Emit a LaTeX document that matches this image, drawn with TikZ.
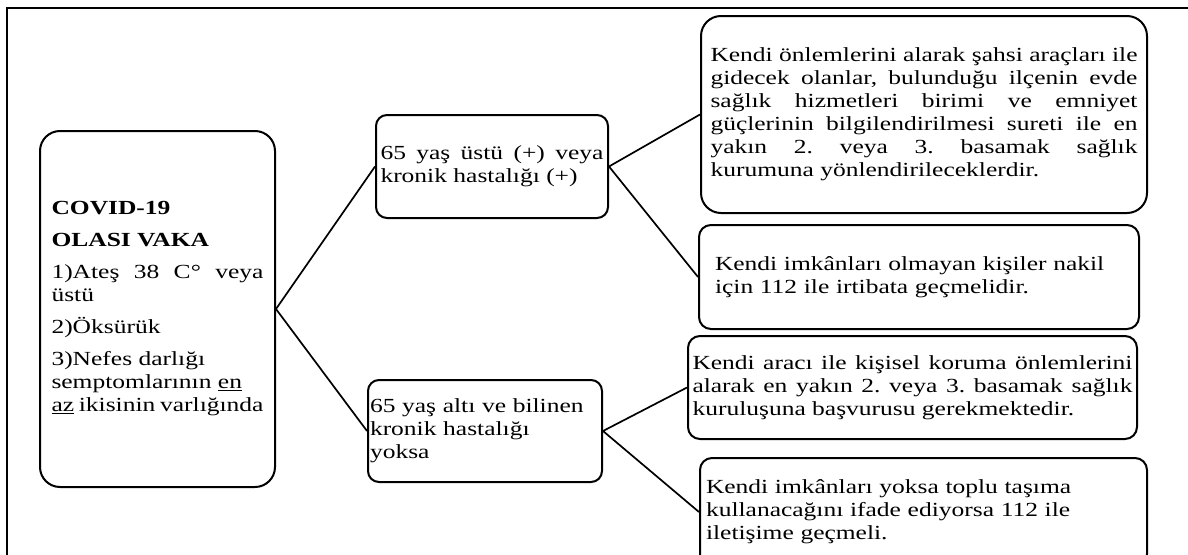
\documentclass[tikz,border=0pt]{standalone}
\usepackage{fontspec}
\setmainfont{Liberation Serif}[FakeStretch=1.275]
\frenchspacing
\begin{document}
\begin{tikzpicture}[x=1pt,y=-1pt,
  box/.style={draw=black, line width=2pt, rounded corners=#1, inner sep=0pt,
    font=\fontsize{20}{23}\selectfont\frenchspacing},
  box/.default=12pt,
  link/.style={draw=black, line width=1.7pt},
  frame/.style={draw=black, line width=1.5pt}]
\useasboundingbox (0,0) rectangle (1188,554);
\clip (0,0) rectangle (1188,554);
% frame
\draw[frame] (1190,8) -- (7,8) -- (7,556);
% left box
\node[box=20pt, minimum width=235pt, minimum height=356pt, text width=212pt, align=justify]
  (L) at (157.5,309) {\setlength{\parskip}{9pt}\setlength{\parindent}{0pt}%
  {\bfseries COVID-19\par OLASI VAKA\par}
  1)Ateş 38 C° veya üstü\par
  2)Öksürük\par
  3)Nefes darlığı\newline semptomlarının \underline{en}\newline \underline{az} ikisinin varlığında};
% middle boxes
\node[box=11pt, minimum width=232pt, minimum height=103pt, text width=223pt, align=justify]
  (A) at (492,166.5) {65 yaş üstü (+) veya\linebreak kronik hastalığı (+)};
\node[box=11pt, minimum width=234pt, minimum height=102pt, text width=230pt, align=left]
  (B) at (485,431) {65 yaş altı ve bilinen\\ kronik hastalığı\\ yoksa};
% right boxes
\node[box=20pt, minimum width=446pt, minimum height=197pt, text width=427pt, align=justify]
  (C1) at (924,114.5) {Kendi önlemlerini alarak şahsi araçları ile\linebreak
  gidecek olanlar, bulunduğu ilçenin evde\linebreak
  sağlık hizmetleri birimi ve emniyet\linebreak
  güçlerinin bilgilendirilmesi sureti ile en\linebreak
  yakın 2. veya 3. basamak sağlık\linebreak
  kurumuna yönlendirileceklerdir.};
\node[box=12pt, minimum width=440pt, minimum height=104pt, text width=408pt, align=left]
  (C2) at (919,277) {Kendi imkânları olmayan kişiler nakil\\ için 112 ile irtibata geçmelidir.};
\node[box=12pt, minimum width=449pt, minimum height=103pt, text width=440pt, align=justify]
  (C3) at (912.5,387.5) {Kendi aracı ile kişisel koruma önlemlerini\linebreak
  alarak en yakın 2. veya 3. basamak sağlık\linebreak
  kuruluşuna başvurusu gerekmektedir.};
\node[box=12pt, minimum width=447pt, minimum height=108pt, text width=435pt, align=left]
  (C4) at (923.5,512) {Kendi imkânları yoksa toplu taşıma\\ kullanacağını ifade ediyorsa 112 ile\\ iletişime geçmeli.};
% connectors
\draw[link] (A.west) -- (L.east) -- (B.west);
\draw[link] (C1.west) -- (A.east) -- (C2.west);
\draw[link] (C3.west) -- (B.east) -- (C4.west);
\end{tikzpicture}
\end{document}
